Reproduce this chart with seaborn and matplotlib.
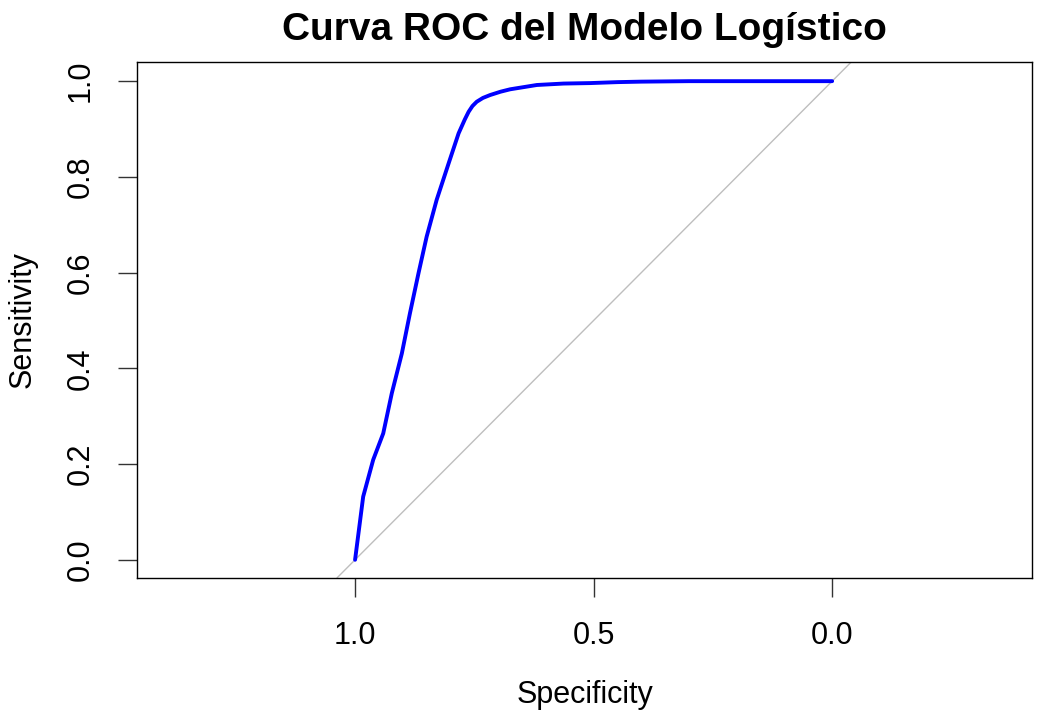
import numpy as np
import pandas as pd
import seaborn as sns
import matplotlib.pyplot as plt

# ROC curve points (specificity, sensitivity)
specificity = [1.000, 0.983, 0.962, 0.941, 0.923, 0.902, 0.885, 0.867, 0.850,
               0.829, 0.804, 0.783, 0.770, 0.762, 0.754, 0.745, 0.732, 0.717,
               0.695, 0.675, 0.619, 0.563, 0.507, 0.450, 0.400, 0.300, 0.200,
               0.100, 0.000]
sensitivity = [0.000, 0.132, 0.209, 0.264, 0.348, 0.431, 0.515, 0.599, 0.675,
               0.752, 0.828, 0.891, 0.920, 0.936, 0.948, 0.957, 0.965, 0.971,
               0.978, 0.983, 0.992, 0.995, 0.996, 0.998, 0.999, 1.000, 1.000,
               1.000, 1.000]
x_ticks = [1.0, 0.5, 0.0]
y_ticks = [0.0, 0.2, 0.4, 0.6, 0.8, 1.0]

df = pd.DataFrame({"Specificity": specificity, "Sensitivity": sensitivity})

sns.set_style("ticks")
plt.rcParams['font.family'] = ['Liberation Sans', 'DejaVu Sans']
plt.rcParams['text.color'] = 'black'
plt.rcParams['axes.labelcolor'] = 'black'
plt.rcParams['xtick.color'] = 'black'
plt.rcParams['ytick.color'] = 'black'

fig = plt.figure(figsize=(10.43, 7.17), dpi=100)
ax = fig.add_axes([0.1314, 0.1939, 0.8581, 0.7196])

# chance diagonal
ax.axline((1, 0), (0, 1), color="#BEBEBE", lw=1, zorder=1)

sns.lineplot(data=df, x="Specificity", y="Sensitivity", sort=False,
             estimator=None, color="#0000FF", lw=2.8, ax=ax, zorder=3)

ax.set_xlim(1.457, -0.419)
ax.set_ylim(-0.038, 1.04)
ax.set_xticks(x_ticks)
ax.set_xticklabels([f"{t:.1f}" for t in x_ticks])
ax.set_yticks(y_ticks)
ax.set_yticklabels([f"{t:.1f}" for t in y_ticks], rotation=90, va="center")

for s in ax.spines.values():
    s.set_visible(True)
    s.set_color("black")
    s.set_linewidth(1)

ax.tick_params(axis="both", length=14, width=1, color="#333333", labelsize=22)
ax.tick_params(axis="x", pad=17)
ax.tick_params(axis="y", pad=16)

ax.set_xlabel("Specificity", fontsize=22, labelpad=21)
ax.set_ylabel("Sensitivity", fontsize=22, labelpad=20)
ax.set_title("Curva ROC del Modelo Logístico", fontsize=28, fontweight="bold", pad=16)

fig.savefig("out.png", dpi=100)
